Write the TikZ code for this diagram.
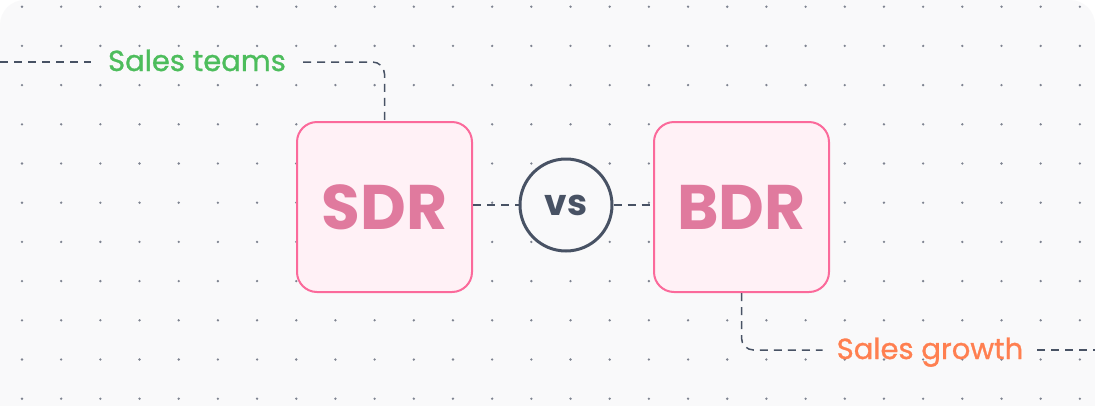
\documentclass[tikz,border=0pt]{standalone}
\usepackage{fontspec}
\setmainfont{Poppins}
\newfontfamily\lblfont{Poppins}[FakeBold=1.0]
\definecolor{bgc}{HTML}{F9F9FA}
\definecolor{dotc}{HTML}{7E8390}
\definecolor{pinkline}{HTML}{FB6A9B}
\definecolor{pinkfill}{HTML}{FFF1F6}
\definecolor{pinktext}{HTML}{E07A9E}
\definecolor{slate}{HTML}{485264}
\definecolor{greenc}{HTML}{4DBD5C}
\definecolor{orangec}{HTML}{FF7F50}
\begin{document}
\begin{tikzpicture}[x=1pt,y=-1pt,
  rolebox/.style={draw=pinkline,line width=2pt,fill=pinkfill,rounded corners=20pt,
    minimum width=175pt,minimum height=170pt,inner sep=0pt,text=pinktext,
    font=\fontsize{63}{63}\selectfont\bfseries},
  vscircle/.style={draw=slate,line width=3pt,fill=bgc,circle,minimum size=92pt,inner sep=0pt,
    text=slate,font=\fontsize{36}{36}\selectfont\bfseries},
  lbl/.style={inner ysep=2pt,font=\fontsize{29}{29}\lblfont},
  conn/.style={draw=slate,line width=1.5pt,dash pattern=on 8pt off 6pt},
  dotm/.style={fill=dotc}]
\useasboundingbox (0,0) rectangle (1095,405);
\fill[white] (0,0) rectangle (1095,405);
\begin{scope}
\clip (0,0) rectangle (1095,405);
\fill[bgc,rounded corners=25pt] (0,0) rectangle (1095,440);
\end{scope}
\foreach \i in {0,...,27}{
  \foreach \j in {0,...,10}{
    \fill[dotm] ({22+39.18*\i},{6.7+39.2*\j}) circle (1.3pt);
  }
}
\node[rolebox] (sdr) at (384.5,207) {SDR};
\node[rolebox] (bdr) at (741.5,207) {BDR};
\node[vscircle] (vs) at (566,205) {vs};
\node[lbl,text=greenc,inner xsep=17pt,anchor=base] (st) at (197,71) {Sales teams};
\node[lbl,text=orangec,inner xsep=14pt,anchor=base] (sg) at (930,359) {Sales growth};
\coordinate (stL) at (0,62);
\coordinate (sgL) at (1095,350);
\draw[conn] (stL) -- (stL -| st.west);
\draw[conn,rounded corners=12pt] (stL -| st.east) -| (sdr.north);
\draw[conn,rounded corners=12pt] (bdr.south) |- (sgL -| sg.west);
\draw[conn] (sgL -| sg.east) -- (sgL);
\draw[conn] (sdr.east |- vs.west) -- (vs.west);
\draw[conn] (vs.east) -- (bdr.west |- vs.east);
\end{tikzpicture}
\end{document}
